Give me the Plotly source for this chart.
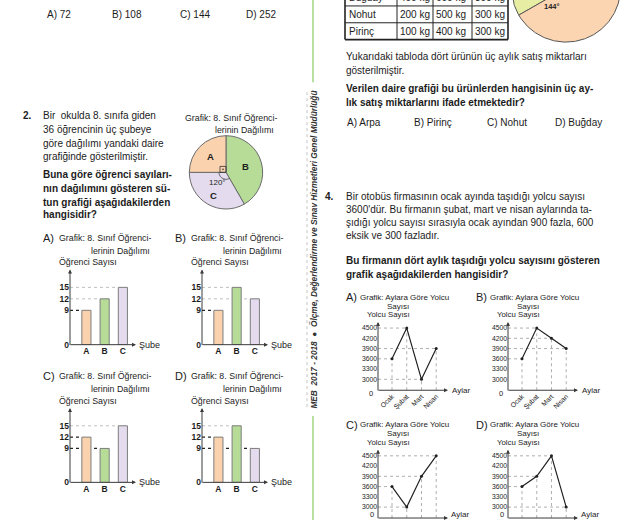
import math
import plotly.graph_objects as go

W, H = 625, 525
FONT = "Liberation Sans, Arial, Helvetica, sans-serif"
INK = "#1c1c1c"


def X(px):
    return px / W


def Y(py):
    return 1 - py / H


# ---------------- data ----------------
q1_options = ["A) 72", "B) 108", "C) 144", "D) 252"]
q1_option_x = [45, 110, 178, 244]

branches = ["A", "B", "C"]
branch_students = [9, 15, 12]
branch_colors = ["#fbd2ae", "#b6dc98", "#e4dcee"]

bars_A = [9, 12, 15]
bars_B = [9, 15, 12]
bars_C = [12, 9, 15]
bars_D = [12, 15, 9]
bar_ticks = [0, 9, 12, 15]

months = ["Ocak", "Şubat", "Mart", "Nisan"]
line_A = [3600, 4500, 3000, 3900]
line_B = [3600, 4500, 4200, 3900]
line_C = [3600, 3000, 3900, 4500]
line_D = [3600, 3900, 4500, 3000]
line_ticks = [3000, 3300, 3600, 3900, 4200, 4500]

table_products = ["Buğday", "Nohut", "Pirinç"]
table_month1 = [400, 200, 100]
table_month2 = [600, 500, 400]
table_month3 = [300, 300, 300]

q3_slice_deg = [126, 90, 144]
q3_slice_colors = ["#e7eea3", "#cfe4b8", "#fbd5b1"]
q3_options = ["A) Arpa", "B) Pirinç", "C) Nohut", "D) Buğday"]
q3_option_x = [345, 412, 485, 553]

# ---------------- helpers ----------------
layout = {}
shapes = []
annotations = []
traces = []
BODY = 10


def axis_ids(n):
    if n == 1:
        return "xaxis", "yaxis", "x", "y"
    return f"xaxis{n}", f"yaxis{n}", f"x{n}", f"y{n}"


def txt(px, py, s, size=BODY, anchor="left", bold=False, color=INK,
        yanchor="middle", **kw):
    annotations.append(dict(
        x=X(px), y=Y(py), xref="paper", yref="paper",
        text=f"<b>{s}</b>" if bold else s, showarrow=False,
        xanchor=anchor, yanchor=yanchor,
        font=dict(family=FONT, size=size, color=color), **kw))


def arrow(hx, hy, tx, ty):
    annotations.append(dict(
        x=X(hx), y=Y(hy), xref="paper", yref="paper",
        ax=tx - hx, ay=ty - hy, text="", showarrow=True,
        arrowhead=2, arrowsize=0.8, arrowwidth=1, arrowcolor="#3a3a3a",
        standoff=0, borderpad=0, font=dict(size=1)))


def base_axis(domain, rng, anchor, size):
    return dict(domain=domain, range=rng, anchor=anchor, ticks="",
                showgrid=False, zeroline=False, showline=False,
                fixedrange=True, tickmode="array",
                tickfont=dict(family=FONT, size=size, color=INK))


def bar_chart(n, letter, left, top, bottom, values):
    xa, ya, xr, yr = axis_ids(n)
    right = left + 66
    x_lo, x_hi = -0.9, 2.72
    layout[xa] = base_axis([X(left), X(right)], [x_lo, x_hi], yr, 8.5)
    layout[xa].update(tickvals=list(range(len(branches))), ticktext=branches)
    layout[xa]["tickfont"]["weight"] = "bold"
    layout[ya] = base_axis([Y(bottom), Y(top)], [0, 19.7], xr, 8.5)
    layout[ya].update(tickvals=bar_ticks)
    layout[ya]["tickfont"]["weight"] = "bold"
    traces.append(go.Bar(
        x=list(range(len(values))), y=values, width=0.5,
        marker=dict(color=branch_colors, line=dict(color="#7d7d7d", width=1)),
        xaxis=xr, yaxis=yr, hoverinfo="skip"))
    for i, v in enumerate(values):
        dark = (i == 0) or (v == min(values))
        shapes.append(dict(
            type="line", xref=xr, yref=yr, x0=x_lo, x1=i - 0.25, y0=v, y1=v,
            layer="below",
            line=dict(color="#222" if dark else "#b0b0b0",
                      width=1.3 if dark else 0.8, dash="dot")))
    arrow(left, top, left, bottom)
    arrow(right, bottom, left, bottom)
    txt(left - 29, top - 32, letter + ")", size=11)
    txt(left - 13, top - 32, "Grafik: 8. Sınıf Öğrenci-", size=8.8)
    txt(left + 19, top - 19, "lerinin Dağılımı", size=8.8)
    txt(left - 13, top - 7, "Öğrenci Sayısı", size=8.8)
    txt(right + 1, bottom, "Şube", size=9)


def line_chart(n, letter, left, top, bottom, values, at_edge=False):
    xa, ya, xr, yr = axis_ids(n)
    right = left + 70
    x_lo, x_hi = -0.95, 3.8
    y_lo, y_hi = 2680, 4680
    layout[xa] = base_axis([X(left), X(right)], [x_lo, x_hi], yr, 6.8)
    layout[xa].update(tickvals=list(range(len(months))), ticktext=months,
                      tickangle=-45, showticklabels=not at_edge)
    layout[ya] = base_axis([Y(bottom), Y(top)], [y_lo, y_hi], xr, 6.8)
    layout[ya].update(tickvals=line_ticks)
    for i, v in enumerate(values):
        st = dict(color="#9a9a9a", width=0.8, dash="dot")
        shapes.append(dict(type="line", xref=xr, yref=yr, x0=x_lo, x1=i,
                           y0=v, y1=v, layer="below", line=st))
        shapes.append(dict(type="line", xref=xr, yref=yr, x0=i, x1=i,
                           y0=y_lo, y1=v, layer="below", line=st))
    traces.append(go.Scatter(
        x=list(range(len(values))), y=values, mode="lines+markers",
        line=dict(color="#222", width=1.2), marker=dict(size=3, color="#222"),
        xaxis=xr, yaxis=yr, hoverinfo="skip"))
    arrow(left, top, left, bottom)
    arrow(right, bottom, left, bottom)
    txt(left - 34, top - 25, letter + ")", size=11)
    txt(left - 20, top - 25, "Grafik: Aylara Göre Yolcu", size=8)
    txt(left + 20, top - 16, "Sayısı", size=8, anchor="center")
    txt(left + 10, top - 7, "Yolcu Sayısı", size=7.8, anchor="center")
    if at_edge:
        txt(left - 3, H, "0", size=7.5, anchor="right", yanchor="bottom",
            borderpad=0)
        txt(right + 2, H, "Aylar", size=8, yanchor="bottom", borderpad=0)
    else:
        txt(left - 3, bottom + 3, "0", size=7.5, anchor="right")
        txt(right + 2, bottom, "Aylar", size=8)


# ---------------- left column ----------------
for s, px in zip(q1_options, q1_option_x):
    txt(px, 15, s)

txt(21, 117, "2.", bold=True)
for py, s in zip([117, 131, 145, 158],
                 ["Bir  okulda 8. sınıfa giden", "36 öğrencinin üç şubeye",
                  "göre dağılımı yandaki daire", "grafiğinde gösterilmiştir."]):
    txt(41, py, s)
for py, s in zip([176, 190, 204, 217],
                 ["Buna göre öğrenci sayıları-", "nın dağılımını gösteren sü-",
                  "tun grafiği aşağıdakilerden", "hangisidir?"]):
    txt(41, py, s, bold=True)

# pie of branches (B at 12 o'clock, clockwise B, C, A)
order = [1, 2, 0]
traces.append(go.Pie(
    values=[branch_students[i] for i in order],
    labels=[branches[i] for i in order],
    marker=dict(colors=[branch_colors[i] for i in order],
                line=dict(color="#6a6a6a", width=1)),
    sort=False, direction="clockwise", rotation=0, textinfo="none",
    hoverinfo="skip", showlegend=False,
    domain=dict(x=[X(189), X(263)], y=[Y(211), Y(137)])))
txt(183, 119, "Grafik: 8. Sınıf Öğrenci-", size=8.8)
txt(213, 131, "lerinin Dağılımı", size=8.8)
cx, cy = 226, 174
txt(210, 158, "A", size=9.5, anchor="center", bold=True)
txt(245, 168, "B", size=9.5, anchor="center", bold=True)
txt(217, 184, "120°", size=8, anchor="center")
txt(213, 197, "C", size=9.5, anchor="center", bold=True)
shapes.append(dict(type="rect", xref="paper", yref="paper",
                   x0=X(cx - 6), x1=X(cx), y0=Y(cy), y1=Y(cy - 6),
                   line=dict(color="#333", width=0.8)))
shapes.append(dict(type="circle", xref="paper", yref="paper",
                   x0=X(cx - 3.8), x1=X(cx - 2.2), y0=Y(cy - 2.2), y1=Y(cy - 3.8),
                   fillcolor="#333", line=dict(width=0)))
arc = []
for k in range(0, 31):
    a = math.radians(150 + 4 * k)
    arc.append((X(cx + 7 * math.sin(a)), Y(cy - 7 * math.cos(a))))
shapes.append(dict(type="path", xref="paper", yref="paper",
                   path="M " + " L ".join(f"{a:.5f},{b:.5f}" for a, b in arc),
                   line=dict(color="#333", width=0.8)))

bar_chart(1, "A", 70, 272, 348, bars_A)
bar_chart(2, "B", 202, 272, 348, bars_B)
bar_chart(3, "C", 70, 412, 487, bars_C)
bar_chart(4, "D", 202, 412, 487, bars_D)

# ---------------- middle strip ----------------
shapes.append(dict(type="line", xref="paper", yref="paper",
                   x0=X(313), x1=X(313), y0=Y(0), y1=Y(83),
                   line=dict(color="#a3d67f", width=1.5)))
shapes.append(dict(type="line", xref="paper", yref="paper",
                   x0=X(313), x1=X(313), y0=Y(420), y1=Y(525),
                   line=dict(color="#a3d67f", width=1.5)))
shapes.append(dict(type="line", xref="paper", yref="paper",
                   x0=X(307), x1=X(307), y0=Y(93), y1=Y(413),
                   line=dict(color="#c4c4c4", width=1, dash="dot")))
annotations.append(dict(
    x=X(314), y=Y(252), xref="paper", yref="paper", showarrow=False,
    textangle=-90, xanchor="center", yanchor="middle",
    text="<b><i>MEB  2017 - 2018  ●  Ölçme, Değerlendirme ve Sınav Hizmetleri Genel Müdürlüğü</i></b>",
    font=dict(family=FONT, size=8.3, color="#333")))

# ---------------- right column: table ----------------
col_x = [345, 397, 433, 472, 508]
row_y = [-11, 6, 23, 40]
for i, xx in enumerate(col_x):
    outer = i in (0, len(col_x) - 1)
    shapes.append(dict(type="line", xref="paper", yref="paper",
                       x0=X(xx), x1=X(xx), y0=Y(row_y[0]), y1=Y(row_y[-1]),
                       line=dict(color="#222", width=1.6 if outer else 1)))
for j, yy in enumerate(row_y):
    outer = j == len(row_y) - 1
    shapes.append(dict(type="line", xref="paper", yref="paper",
                       x0=X(col_x[0]), x1=X(col_x[-1]), y0=Y(yy), y1=Y(yy),
                       line=dict(color="#222", width=1.6 if outer else 1)))
for r, name in enumerate(table_products):
    py = (row_y[r] + row_y[r + 1]) / 2
    txt(col_x[0] + 2, py, name)
    for c, val in enumerate([table_month1[r], table_month2[r], table_month3[r]]):
        txt(col_x[c + 1] + 1, py, f"{val} kg")

# partially visible pie (question 3) drawn on its own axis
xa, ya, xr, yr = axis_ids(9)
layout[xa] = dict(domain=[X(505), X(625)], range=[505, 625], anchor=yr,
                  visible=False, fixedrange=True)
layout[ya] = dict(domain=[Y(50), Y(0)], range=[-50, 0], anchor=xr,
                  visible=False, fixedrange=True)
pcx, pcy, pr = 566, 12, 54.5
start = 240
for deg, col in zip(q3_slice_deg, q3_slice_colors):
    xs, ys = [pcx], [pcy]
    steps = int(deg)
    for k in range(steps + 1):
        a = math.radians(start + deg * k / steps)
        xs.append(pcx + pr * math.sin(a))
        ys.append(pcy + pr * math.cos(a))
    xs.append(pcx)
    ys.append(pcy)
    traces.append(go.Scatter(x=xs, y=ys, mode="lines", fill="toself",
                             fillcolor=col, line=dict(color="#555", width=1),
                             xaxis=xr, yaxis=yr, hoverinfo="skip"))
    start += deg
txt(552, 7, "144°", size=7.5, anchor="center", bold=True)

# ---------------- right column: text ----------------
txt(344, 57, "Yukarıdaki tabloda dört ürünün üç aylık satış miktarları")
txt(344, 71, "gösterilmiştir.")
txt(344, 89, "Verilen daire grafiği bu ürünlerden hangisinin üç ay-", bold=True)
txt(344, 103, "lık satış miktarlarını ifade etmektedir?", bold=True)
for s, px in zip(q3_options, q3_option_x):
    txt(px, 124, s)

txt(323, 198, "4.", bold=True)
for py, s in zip([198, 212, 225, 238],
                 ["Bir otobüs firmasının ocak ayında taşıdığı yolcu sayısı",
                  "3600'dür. Bu firmanın şubat, mart ve nisan aylarında ta-",
                  "şıdığı yolcu sayısı sırasıyla ocak ayından 900 fazla, 600",
                  "eksik ve 300 fazladır."]):
    txt(344, py, s)
txt(344, 263, "Bu firmanın dört aylık taşıdığı yolcu sayısını gösteren", bold=True)
txt(344, 277, "grafik aşağıdakilerden hangisidir?", bold=True)

line_chart(5, "A", 378, 325, 394, line_A)
line_chart(6, "B", 508, 325, 394, line_B)
line_chart(7, "C", 378, 454, 523, line_C, at_edge=True)
line_chart(8, "D", 508, 454, 523, line_D, at_edge=True)

fig = go.Figure(data=traces)
fig.update_layout(
    width=W, height=H, margin=dict(l=0, r=0, t=0, b=0),
    paper_bgcolor="white", plot_bgcolor="rgba(0,0,0,0)",
    showlegend=False, shapes=shapes, annotations=annotations,
    font=dict(family=FONT, color=INK), **layout)
fig.write_html(
    "out.html",
    config={"displayModeBar": False},
    post_script=(
        "document.body.style.margin='0px';"
        "document.body.style.overflow='hidden';"
        "document.documentElement.style.overflow='hidden';"
        "document.querySelectorAll('.svg-container, .main-svg')"
        ".forEach(function(e){e.style.overflow='hidden';});"))
